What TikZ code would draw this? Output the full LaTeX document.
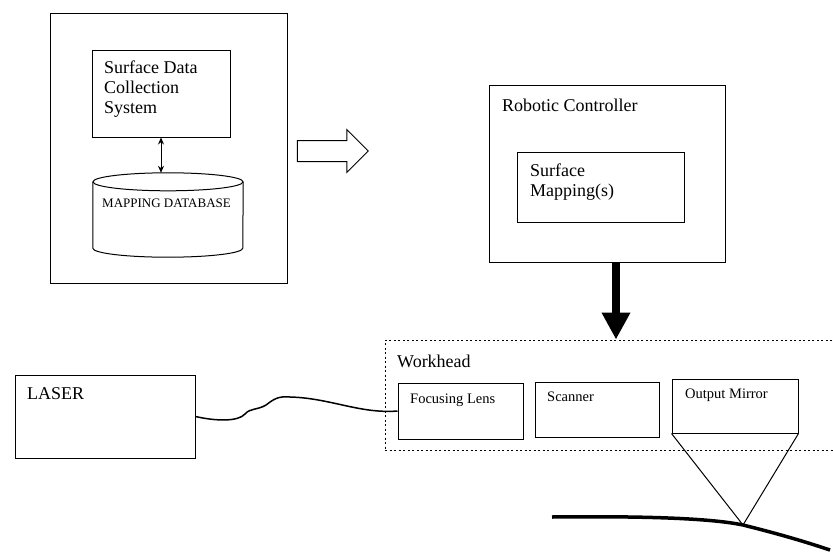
\documentclass[tikz,border=0pt]{standalone}
\usepackage{fontspec}
\setmainfont{Liberation Serif}
\usetikzlibrary{shapes.arrows,arrows.meta}

\tikzset{
  box/.style={draw,line width=1pt,inner sep=0pt},
  boxtext/.style={anchor=north west,inner sep=0pt,align=left,font=\fontsize{18}{20}\selectfont},
  parttext/.style={anchor=north west,inner sep=0pt,align=left,font=\fontsize{14.5}{17}\selectfont},
  dotbox/.style={draw,line width=1pt,dash pattern=on 2pt off 2.5pt,inner sep=0pt},
}

\begin{document}
\begin{tikzpicture}[x=1pt,y=-1pt]

\clip (0,0) rectangle (833,552);

% mapping side
\node[box,minimum width=237pt,minimum height=270pt](mapping) at (168.5,148) {};
\node[box,minimum width=138pt,minimum height=87pt](collection) at (161,93.5) {};
\node[boxtext](collection text) at (104,61) {Surface Data\\Collection\\System};
\node[inner sep=0pt,minimum width=150pt,minimum height=66pt](database) at (168,215) {};
\draw[line width=1pt] (database.north) ellipse (75pt and 9pt);
\draw[line width=1pt] (database.north west) -- (database.south west)
  arc[start angle=180,end angle=360,x radius=75pt,y radius=9pt] -- (database.north east);
\coordinate (database top) at ([yshift=9pt]database.north);
\node[anchor=west,inner sep=0pt,font=\fontsize{13}{14}\selectfont](database text) at (102,203) {MAPPING DATABASE};

\draw[<->,>={Stealth[length=7pt,width=6pt]},line width=1pt] (collection.south) to (collection.south |- database top);

% hollow arrow
\node[draw,line width=1pt,single arrow,single arrow head extend=11pt,minimum height=71pt,inner xsep=0pt,inner ysep=10pt](transfer) at (327.5,151) {};

% controller
\node[box,minimum width=236pt,minimum height=177pt](controller) at (607,173.5) {};
\node[boxtext](controller text) at (502,99) {Robotic Controller};
\node[box,minimum width=167pt,minimum height=70pt](mappings) at (600.5,187) {};
\node[boxtext](mappings text) at (530,164) {Surface\\Mapping(s)};

% workhead
\node[dotbox,minimum width=470pt,minimum height=110pt](workhead) at (620,395) {};
\node[boxtext](workhead text) at (397,355) {Workhead};
\node[box,minimum width=125pt,minimum height=56pt](lens) at (460.5,411) {};
\node[parttext](lens text) at (410,394) {Focusing Lens};
\node[box,minimum width=124pt,minimum height=55pt](scanner) at (597,409.5) {};
\node[parttext](scanner text) at (547,392) {Scanner};
\node[box,minimum width=126pt,minimum height=54pt](mirror) at (735,406) {};
\node[parttext](mirror text) at (685,389) {Output Mirror};

\draw[-{Triangle[length=27pt,width=27pt]},line width=8pt] (controller.south -| 616,0) to (workhead.north -| 616,0);

% laser
\node[box,minimum width=180pt,minimum height=83pt](laser) at (105,416.5) {};
\node[boxtext](laser text) at (27,387) {LASER};

\draw[line width=1.5pt] (laser.east) .. controls (215,421) and (238,422) .. (245,414)
  .. controls (250,408) and (258,410) .. (266,405)
  .. controls (274,399) and (278,396) .. (290,397)
  .. controls (330,398) and (360,414) .. (lens.west);

% beam onto the surface
\coordinate (spot) at (743,525);
\draw[line width=1pt] (mirror.south west) -- (spot) -- (mirror.south east);
\draw[line width=3.5pt] (552,517) .. controls (640,516) and (710,518) .. (spot) .. controls (775,533) and (800,540) .. (830,550);

\end{tikzpicture}
\end{document}
